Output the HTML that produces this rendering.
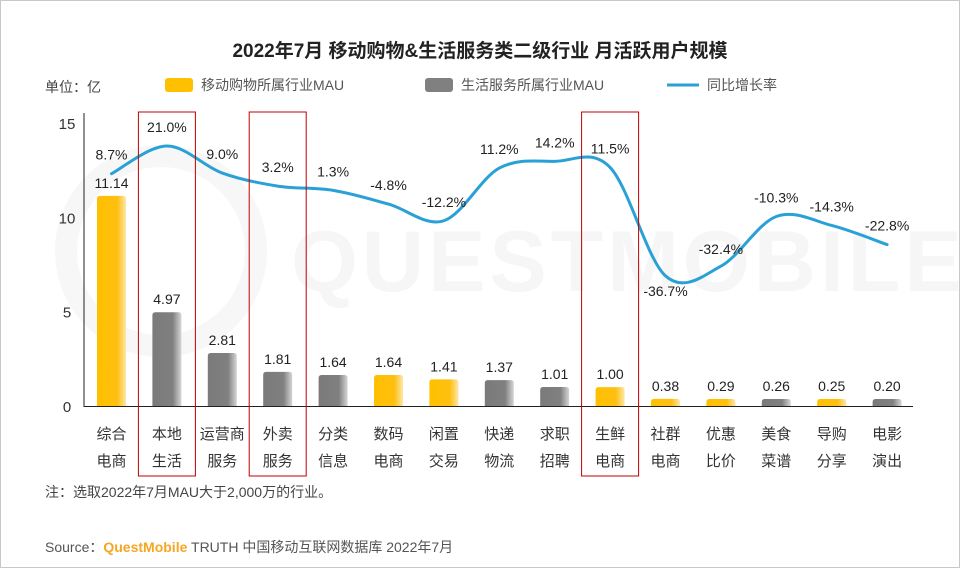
<!DOCTYPE html>
<html><head><meta charset="utf-8">
<style>
body{margin:0;background:#fff;font-family:"Liberation Sans","Noto Sans CJK SC",sans-serif;}
#wrap{position:relative;width:958px;height:566px;border:1px solid #c8c8c8;overflow:hidden;}
svg text{font-family:"Liberation Sans","Noto Sans CJK SC",sans-serif;}
</style></head><body>
<div id="wrap">
<svg id="chart" width="958" height="566">
<defs>
<linearGradient id="gy" x1="0" x2="1" y1="0" y2="0"><stop offset="0" stop-color="#ffc000"/><stop offset="0.7" stop-color="#ffbf10"/><stop offset="1" stop-color="#fde7a8"/></linearGradient>
<linearGradient id="gg" x1="0" x2="1" y1="0" y2="0"><stop offset="0" stop-color="#7a7a7a"/><stop offset="0.7" stop-color="#808080"/><stop offset="1" stop-color="#d6d6d6"/></linearGradient>
</defs>
<circle cx="160" cy="250" r="95" fill="none" stroke="#f7f7f7" stroke-width="22"/>
<text x="290" y="290" font-size="86" fill="#f6f6f6" font-weight="bold" letter-spacing="4">QUESTMOBILE</text>
<text x="479" y="56" font-size="19" font-weight="bold" fill="#222" text-anchor="middle">2022年7月 移动购物&amp;生活服务类二级行业 月活跃用户规模</text>
<text x="44" y="91" font-size="14" fill="#444">单位：亿</text>
<g>
<rect x="164" y="77" width="28" height="14" rx="3" fill="#ffc000"/>
<text x="200" y="89" font-size="14" fill="#555">移动购物所属行业MAU</text>
<rect x="424" y="77" width="28" height="14" rx="3" fill="#808080"/>
<text x="460" y="89" font-size="14" fill="#555">生活服务所属行业MAU</text>
<line x1="666" y1="84" x2="698" y2="84" stroke="#2aa1d6" stroke-width="3"/>
<text x="706" y="89" font-size="14" fill="#555">同比增长率</text>
</g>
<g id="plot"></g>
<text x="44" y="496" font-size="14" fill="#444">注：选取2022年7月MAU大于2,000万的行业。</text>
<text x="44" y="551" font-size="14" fill="#555">Source：<tspan fill="#f5a623" font-weight="bold">QuestMobile</tspan> TRUTH 中国移动互联网数据库 2022年7月</text>
</svg>
</div>
<script>
const categories=[["综合","电商"],["本地","生活"],["运营商","服务"],["外卖","服务"],["分类","信息"],["数码","电商"],["闲置","交易"],["快递","物流"],["求职","招聘"],["生鲜","电商"],["社群","电商"],["优惠","比价"],["美食","菜谱"],["导购","分享"],["电影","演出"]];
const mauValues=[11.14,4.97,2.81,1.81,1.64,1.64,1.41,1.37,1.01,1.00,0.38,0.29,0.26,0.25,0.20];
const mauLabels=["11.14","4.97","2.81","1.81","1.64","1.64","1.41","1.37","1.01","1.00","0.38","0.29","0.26","0.25","0.20"];
const seriesType=["shop","life","life","life","life","shop","shop","life","life","shop","shop","shop","life","shop","life"];
const growthValues=[8.7,21.0,9.0,3.2,1.3,-4.8,-12.2,11.2,14.2,11.5,-36.7,-32.4,-10.3,-14.3,-22.8];
const growthLabels=["8.7%","21.0%","9.0%","3.2%","1.3%","-4.8%","-12.2%","11.2%","14.2%","11.5%","-36.7%","-32.4%","-10.3%","-14.3%","-22.8%"];
const yTicks=[0,5,10,15];
const highlighted=[1,3,9];

const NS="http://www.w3.org/2000/svg";
const g=document.getElementById('plot');
function el(t,a){const e=document.createElementNS(NS,t);for(const k in a)e.setAttribute(k,a[k]);g.appendChild(e);return e;}
const x0=83,x1=912,y0=405,yTop=122,yMax=15;
const step=55.4, firstX=110.5;
const xs=i=>firstX+i*step;
const ys=v=>y0-(v/yMax)*(y0-yTop);
const gy=v=>192.3-v*2.25;

yTicks.forEach(t=>{const e=el('text',{x:66,y:ys(t)+6,'font-size':15,fill:'#333','text-anchor':'middle'});e.textContent=t;

});
const ya=el('line',{x1:x0,y1:yTop-10,x2:x0,y2:y0+1,stroke:'#222','stroke-width':1});



mauValues.forEach((v,i)=>{
 const w=29,h=Math.max(y0-ys(v),7);
 const r=el('path',{d:`M${xs(i)-w/2},${y0} V${y0-h+3} Q${xs(i)-w/2},${y0-h} ${xs(i)-w/2+3},${y0-h} H${xs(i)+w/2-3} Q${xs(i)+w/2},${y0-h} ${xs(i)+w/2},${y0-h+3} V${y0} Z`,fill:seriesType[i]=='shop'?'url(#gy)':'url(#gg)'});
 
 
 const t=el('text',{x:xs(i),y:y0-h-8,'font-size':14,fill:'#222','text-anchor':'middle'});t.textContent=mauLabels[i];
 
 
 categories[i].forEach((c,j)=>{const ct=el('text',{x:xs(i),y:438+j*27,'font-size':15,fill:'#333','text-anchor':'middle'});ct.textContent=c;
 
 });
});
const xa=el('line',{x1:x0,y1:y0+0.5,x2:x1,y2:y0+0.5,stroke:'#222','stroke-width':1});



const pts=growthValues.map((v,i)=>[xs(i),gy(v)]);
let d=`M${pts[0][0]},${pts[0][1]}`;
for(let i=0;i<pts.length-1;i++){
 const p0=pts[i-1]||pts[i],p1=pts[i],p2=pts[i+1],p3=pts[i+2]||p2;
 const c1=[p1[0]+(p2[0]-p0[0])/6,p1[1]+(p2[1]-p0[1])/6],c2=[p2[0]-(p3[0]-p1[0])/6,p2[1]-(p3[1]-p1[1])/6];
 d+=` C${c1[0]},${c1[1]} ${c2[0]},${c2[1]} ${p2[0]},${p2[1]}`;
}
const ln=el('path',{d:d,fill:'none',stroke:'#2aa1d6','stroke-width':3,'stroke-linecap':'round'});


growthValues.forEach((v,i)=>{
 let dy=-14, dx=0;
 if(i==10){dy=20;dx=0;} if(i==11){dy=-12;dx=0;}
 const t=el('text',{x:pts[i][0]+dx,y:pts[i][1]+dy,'font-size':14,fill:'#222','text-anchor':'middle'});t.textContent=growthLabels[i];
 
 
});
highlighted.forEach(i=>{const r=el('rect',{x:xs(i)-28.5,y:111,width:57,height:364,fill:'none',stroke:'#c00000','stroke-width':1});

});
</script>
</body></html>
